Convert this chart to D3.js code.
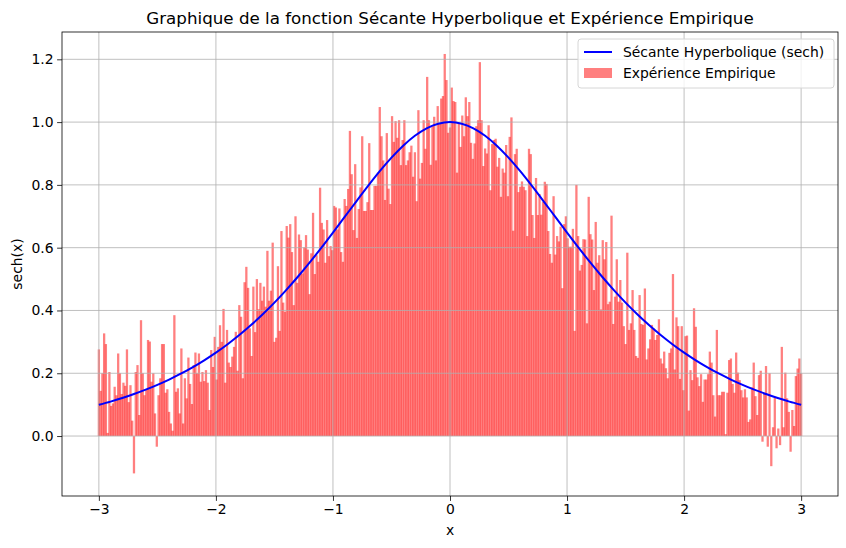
<!DOCTYPE html>
<html>
<head>
<meta charset="utf-8">
<script src="https://cdn.jsdelivr.net/npm/d3@7"></script>
<style>
  body { margin: 0; background: #fff; }
  text { font-family: "DejaVu Sans", sans-serif; fill: #000; }
</style>
</head>
<body>
<script>
// sech(x) curve, sampled every 0.1
var curveX = [-3.0,-2.9,-2.8,-2.7,-2.6,-2.5,-2.4,-2.3,-2.2,-2.1,-2.0,-1.9,-1.8,-1.7,-1.6,-1.5,-1.4,-1.3,-1.2,-1.1,
  -1.0,-0.9,-0.8,-0.7,-0.6,-0.5,-0.4,-0.3,-0.2,-0.1,0.0,0.1,0.2,0.3,0.4,0.5,0.6,0.7,0.8,0.9,
  1.0,1.1,1.2,1.3,1.4,1.5,1.6,1.7,1.8,1.9,2.0,2.1,2.2,2.3,2.4,2.5,2.6,2.7,2.8,2.9,3.0];
var curveY = [0.0993,0.1097,0.1212,0.1338,0.1477,0.1631,0.1800,0.1985,0.2189,0.2413,0.2658,0.2926,0.3218,0.3536,0.3880,0.4251,0.4649,0.5074,0.5523,0.5993,
  0.6481,0.6978,0.7477,0.7967,0.8436,0.8868,0.9250,0.9566,0.9803,0.9950,1.0000,0.9950,0.9803,0.9566,0.9250,0.8868,0.8436,0.7967,0.7477,0.6978,
  0.6481,0.5993,0.5523,0.5074,0.4649,0.4251,0.3880,0.3536,0.3218,0.2926,0.2658,0.2413,0.2189,0.1985,0.1800,0.1631,0.1477,0.1338,0.1212,0.1097,0.0993];

// empirical bars, read left to right (x from -3 to 3, evenly spaced)
var barValues = [
  .276,.144,.2,.327,.293,.01,.204,.096,.104,.157,.13,.263,.2,.134,.17,.16,.276,.108,.162,.049,-.119,.204,.226,.067,.369,.2,.13,.15,.306,.301,.173,.2,.072,-.034,.13,.184,.293,.293,.138,.149,.077,.04,.017,.385,.141,.152,.072,.279,.04,.184,.12,.25,.166,.102,.226,.266,.2,.263,.173,.204,.175,.21,.17,.083,.274,.22,.316,
  .18,.284,.353,.3,.405,.17,.338,.234,.22,.253,.284,.332,.208,.417,.38,.184,.49,.539,.472,.343,.255,.476,.331,.5,.404,.488,.431,.476,.412,.59,.431,.463,.616,.3,.313,.541,.335,.653,.425,.396,.669,.632,.675,.586,.417,.7,.488,.642,.624,.518,.601,.64,.594,.452,.582,.711,.516,.576,.555,.791,.679,.658,.552,.688,.573,.605,.592,.733,
  .728,.658,.725,.586,.555,.755,.733,.787,.972,.834,.656,.866,.631,.723,.792,.955,.717,.717,.745,.933,.72,.72,.797,.797,.839,1.048,.955,.878,.752,.965,.788,.739,1.019,.937,1.003,.95,1.006,.863,.943,1.006,.863,.878,.904,.925,.826,.904,.748,1.038,.82,.87,1.006,.915,1.144,1.006,.864,.987,1.017,.878,1.051,.996,1.075,1.083,1.217,1.134,.966,.983,1.11,1.067,
  1.064,.839,.996,.921,1.021,.955,1.079,1.019,1.064,.934,.883,.932,.987,1.006,1.191,1.006,.86,.916,.9,.99,.783,.93,.943,.947,.858,.886,.762,.852,.839,.927,.764,.953,1.015,.654,.898,.915,.777,.794,.811,.794,.783,.637,.915,.898,.704,.631,.822,.704,.771,.705,.746,.81,.803,.653,.58,.552,.764,.578,.637,.62,.667,.471,.675,.7,.63,.603,.603,.66,.335,
  .8,.637,.527,.545,.627,.626,.359,.762,.643,.626,.465,.682,.552,.576,.403,.624,.563,.618,.42,.428,.702,.357,.444,.563,.428,.497,.425,.35,.293,.584,.338,.359,.465,.338,.255,.249,.449,.357,.354,.47,.244,.279,.308,.354,.343,.306,.322,.372,.247,.231,.269,.216,.184,.265,.279,.516,.212,.378,.35,.182,.35,.146,.318,.32,.081,.21,.178,.407,
  .348,.187,.159,.197,.109,.18,.18,.197,.269,.234,.13,.062,.338,.13,.13,.141,.141,.006,.138,.242,.247,.166,.138,.266,.202,.178,.146,.123,.149,.123,.045,.053,.155,.234,.127,.067,.194,.208,-.018,.136,.223,-.034,.2,-.096,.028,.123,-.039,.024,-.029,.284,.028,.202,.12,.077,-.05,.083,.032,.191,.215,.247,.2
];

var xTicks = [-3, -2, -1, 0, 1, 2, 3];
var yTicks = [0.0, 0.2, 0.4, 0.6, 0.8, 1.0, 1.2];

var W = 846, H = 548;
var margin = {left: 62, right: 8, top: 32, bottom: 52};
var plotW = W - margin.left - margin.right,
    plotH = H - margin.top - margin.bottom;

var svg = d3.select("body").append("svg")
    .attr("width", W)
    .attr("height", H);

var x = d3.scaleLinear().domain([-3.315, 3.315]).range([0, plotW]);
var y = d3.scaleLinear().domain([-0.191, 1.287]).range([plotH, 0]);

var g = svg.append("g")
    .attr("transform", "translate(" + margin.left + "," + margin.top + ")");

// bar positions: evenly spread over [-3, 3]
var n = barValues.length;
var barX = d3.scaleLinear().domain([0, n - 1]).range([-3, 3]);
var step = x(barX(1)) - x(barX(0));
var bw = step * 1.3;

g.append("g").selectAll("rect")
    .data(barValues)
    .enter().append("rect")
    .attr("x", function (d, i) { return x(barX(i)) - bw / 2; })
    .attr("width", bw)
    .attr("y", function (d) { return Math.min(y(d), y(0)); })
    .attr("height", function (d) { return Math.abs(y(d) - y(0)); })
    .attr("fill", "red")
    .attr("fill-opacity", 0.5);

// grid (above the bars, like matplotlib)
var grid = g.append("g").attr("stroke", "#b0b0b0").attr("stroke-width", 0.8);
xTicks.forEach(function (t) {
    grid.append("line").attr("x1", x(t)).attr("x2", x(t)).attr("y1", 0).attr("y2", plotH);
});
yTicks.forEach(function (t) {
    grid.append("line").attr("x1", 0).attr("x2", plotW).attr("y1", y(t)).attr("y2", y(t));
});

// sech line
var line = d3.line()
    .x(function (d, i) { return x(curveX[i]); })
    .y(function (d) { return y(d); })
    .curve(d3.curveMonotoneX);
g.append("path")
    .datum(curveY)
    .attr("d", line)
    .attr("fill", "none")
    .attr("stroke", "#0000ff")
    .attr("stroke-width", 2);

// axes
var fmtX = function (d) { return d < 0 ? "\u2212" + Math.abs(d) : String(d); };
var xAxis = g.append("g")
    .attr("transform", "translate(0," + plotH + ")")
    .call(d3.axisBottom(x).tickValues(xTicks).tickFormat(fmtX).tickSize(4.9).tickPadding(3.5));
var yAxis = g.append("g")
    .call(d3.axisLeft(y).tickValues(yTicks).tickFormat(d3.format(".1f")).tickSize(4.9).tickPadding(3.5));
[xAxis, yAxis].forEach(function (a) {
    a.select(".domain").remove();
    a.selectAll("line").attr("stroke", "#000").attr("stroke-width", 0.8);
    a.selectAll("text").attr("font-size", 13.9).attr("font-family", "DejaVu Sans").attr("fill", "#000");
});

g.append("rect")
    .attr("width", plotW).attr("height", plotH)
    .attr("fill", "none").attr("stroke", "#000").attr("stroke-width", 0.8);

// labels
svg.append("text")
    .attr("x", margin.left + plotW / 2).attr("y", 24)
    .attr("text-anchor", "middle").attr("font-size", 16.7)
    .text("Graphique de la fonction Sécante Hyperbolique et Expérience Empirique");
svg.append("text")
    .attr("x", margin.left + plotW / 2).attr("y", 535)
    .attr("text-anchor", "middle").attr("font-size", 13.9)
    .text("x");
svg.append("text")
    .attr("transform", "translate(22," + (margin.top + plotH / 2) + ") rotate(-90)")
    .attr("text-anchor", "middle").attr("font-size", 13.9)
    .text("sech(x)");

// legend
var lg = svg.append("g").attr("transform", "translate(578,39)");
lg.append("rect")
    .attr("width", 256).attr("height", 49).attr("rx", 3)
    .attr("fill", "#fff").attr("fill-opacity", 0.8)
    .attr("stroke", "#d6d6d6").attr("stroke-width", 1);
lg.append("line")
    .attr("x1", 6).attr("x2", 34).attr("y1", 13).attr("y2", 13)
    .attr("stroke", "#0000ff").attr("stroke-width", 2);
lg.append("text").attr("x", 45).attr("y", 18).attr("font-size", 13.9)
    .text("Sécante Hyperbolique (sech)");
lg.append("rect")
    .attr("x", 6).attr("y", 29).attr("width", 28).attr("height", 10)
    .attr("fill", "red").attr("fill-opacity", 0.5);
lg.append("text").attr("x", 45).attr("y", 39).attr("font-size", 13.9)
    .text("Expérience Empirique");
</script>
</body>
</html>
